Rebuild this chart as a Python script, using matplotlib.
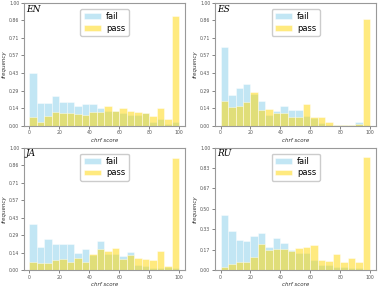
import numpy as np
import matplotlib.pyplot as plt

# bin edges of the chrf score histograms (20 bins of width 5)
bin_edges = np.arange(0, 101, 5)

langs = ['EN', 'ES', 'JA', 'RU']

fail_en = [0.43, 0.187, 0.184, 0.244, 0.195, 0.19, 0.16, 0.173, 0.173, 0.146,
           0.12, 0.12, 0.10, 0.087, 0.087, 0.10, 0.03, 0.05, 0.016, 0.027]
pass_en = [0.073, 0.03, 0.08, 0.114, 0.106, 0.106, 0.095, 0.089, 0.111, 0.111,
           0.16, 0.12, 0.14, 0.12, 0.11, 0.106, 0.076, 0.14, 0.054, 0.89]

fail_es = [0.64, 0.25, 0.31, 0.34, 0.255, 0.20, 0.09, 0.12, 0.16, 0.127,
           0.127, 0.08, 0.06, 0.02, 0.005, 0.003, 0.002, 0.002, 0.027, 0.002]
pass_es = [0.20, 0.15, 0.16, 0.19, 0.27, 0.13, 0.135, 0.105, 0.105, 0.068,
           0.068, 0.176, 0.073, 0.068, 0.027, 0.004, 0.003, 0.003, 0.01, 0.87]

fail_ja = [0.38, 0.19, 0.255, 0.21, 0.21, 0.21, 0.144, 0.17, 0.127, 0.236,
           0.13, 0.13, 0.12, 0.15, 0.046, 0.038, 0.02, 0.02, 0.03, 0.017]
pass_ja = [0.068, 0.06, 0.06, 0.084, 0.09, 0.068, 0.10, 0.068, 0.13, 0.176,
           0.154, 0.18, 0.09, 0.127, 0.10, 0.095, 0.08, 0.16, 0.035, 0.915]

fail_ru = [0.45, 0.316, 0.25, 0.237, 0.28, 0.305, 0.19, 0.26, 0.226, 0.166,
           0.14, 0.14, 0.087, 0.04, 0.04, 0.025, 0.025, 0.016, 0.02, 0.003]
pass_ru = [0.027, 0.054, 0.065, 0.071, 0.106, 0.213, 0.163, 0.177, 0.177, 0.158,
           0.185, 0.19, 0.204, 0.087, 0.076, 0.13, 0.068, 0.098, 0.07, 0.925]

fails = [fail_en, fail_es, fail_ja, fail_ru]
passes = [pass_en, pass_es, pass_ja, pass_ru]
n_yticks = [8, 8, 8, 7]

fig, axes = plt.subplots(2, 2, figsize=(3.82, 2.86), dpi=100)
plt.subplots_adjust(left=0.063, right=0.985, top=0.99, bottom=0.055,
                    wspace=0.186, hspace=0.179)

lefts = bin_edges[:-1]
for ax, lang, f, p, nt in zip(axes.flat, langs, fails, passes, n_yticks):
    ax.bar(lefts, f, width=5, align='edge', color='skyblue', alpha=0.5,
           edgecolor='white', linewidth=0.6, label='fail')
    ax.bar(lefts, p, width=5, align='edge', color='gold', alpha=0.5,
           edgecolor='white', linewidth=0.6, label='pass')
    ax.set_ylim(0, 1)
    ax.set_xlim(-3.6, 104)
    yt = np.linspace(0, 1, nt)
    ax.set_yticks(yt)
    ax.set_yticklabels(['%.2f' % v for v in yt])
    ax.set_xticks([0, 20, 40, 60, 80, 100])
    ax.tick_params(labelsize=3.3, length=2, width=0.5, pad=1.5,
                   colors='#555555')
    for s in ax.spines.values():
        s.set_color('#999999')
        s.set_linewidth(0.8)
    ax.set_xlabel('chrf score', fontsize=4, style='italic', labelpad=1.5,
                  color='#333333')
    ax.set_ylabel('frequency', fontsize=4, style='italic', labelpad=1.5,
                  color='#333333')
    ax.text(0.01, 0.985, lang, transform=ax.transAxes, ha='left', va='top',
            family='DejaVu Serif', style='italic', fontsize=6.5)
    ax.legend(loc='upper center', fontsize=6, handlelength=2.1,
              borderpad=0.4, labelspacing=0.3, handletextpad=0.6,
              framealpha=1, bbox_to_anchor=(0.5, 0.985))

fig.savefig('out.png')
